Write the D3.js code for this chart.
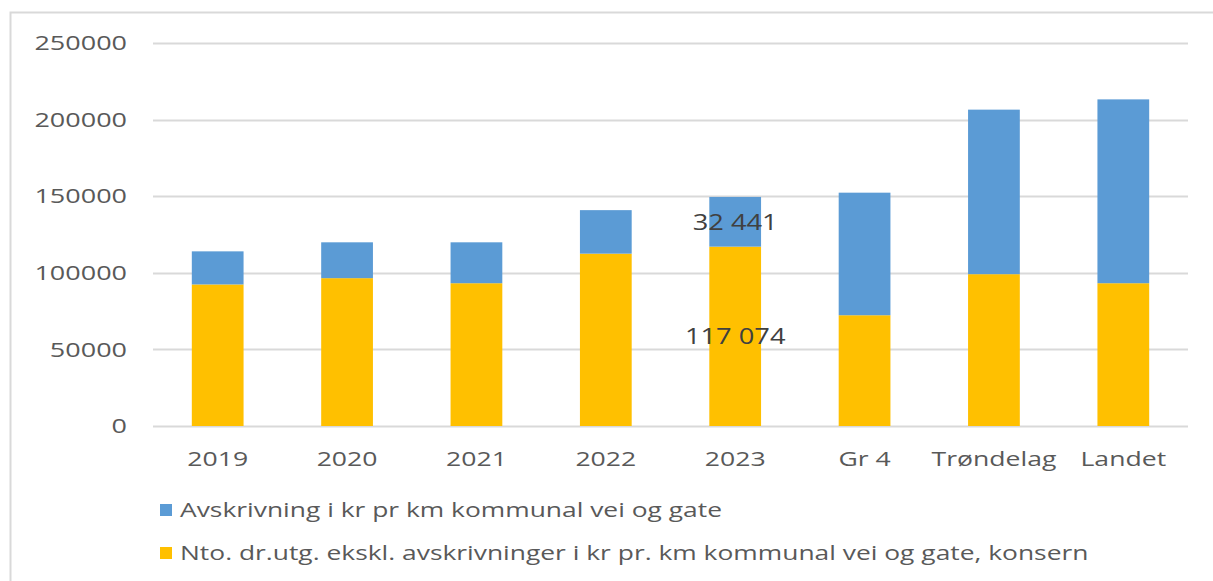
<!DOCTYPE html>
<html>
<head>
<meta charset="utf-8">
<script src="https://cdn.jsdelivr.net/npm/d3@7"></script>
<style>
  html, body { margin: 0; padding: 0; background: #fff; }
  svg { display: block; }
  text { font-family: "Open Sans", "DejaVu Sans", sans-serif; }
</style>
</head>
<body>
<svg id="chart" width="1213" height="581"></svg>
<script>
// Categories along the x axis
const categories = ["2019", "2020", "2021", "2022", "2023", "Gr 4", "Trøndelag", "Landet"];

// Net operating expenditure excl. depreciation (kr per km road), bottom segment
const netExpenses = [92400, 96500, 93200, 112500, 117074, 72300, 99100, 93200];

// Depreciation (kr per km road), top segment
const depreciation = [21600, 23400, 26700, 28400, 32441, 80000, 107400, 120000];

// Y axis ticks
const yTicks = [0, 50000, 100000, 150000, 200000, 250000];

// Series names for the legend
const seriesNames = [
  "Avskrivning i kr pr km kommunal vei og gate",
  "Nto. dr.utg. ekskl. avskrivninger i kr pr. km kommunal vei og gate, konsern"
];

// Category indices whose segments carry value labels
const labelledIndex = [4];

const colors = { dep: "#5B9BD5", net: "#FFC000" };
const textColor = "#595959";
const stretch = 1.33; // horizontal widening of the chart type

const svg = d3.select("#chart");

// Outer frame
svg.append("rect")
  .attr("x", 10.5).attr("y", 12.5)
  .attr("width", 1220).attr("height", 600)
  .attr("fill", "none")
  .attr("stroke", "#d9d9d9")
  .attr("stroke-width", 2);

const plot = { left: 153, right: 1188, top: 43, bottom: 426 };

const x = d3.scaleBand()
  .domain(categories)
  .range([plot.left, plot.right])
  .paddingInner(0.6)
  .paddingOuter(0.3);

const y = d3.scaleLinear()
  .domain([0, 250000])
  .range([plot.bottom, plot.top]);

// Gridlines
svg.append("g")
  .selectAll("line")
  .data(yTicks)
  .join("line")
  .attr("x1", plot.left).attr("x2", plot.right)
  .attr("y1", d => Math.round(y(d)) + 0.5)
  .attr("y2", d => Math.round(y(d)) + 0.5)
  .attr("stroke", "#d9d9d9")
  .attr("stroke-width", 2);

// Y tick labels
svg.append("g")
  .selectAll("text")
  .data(yTicks)
  .join("text")
  .attr("transform", d => `translate(127,${y(d)}) scale(1.35,1)`)
  .attr("text-anchor", "end")
  .attr("dy", "0.36em")
  .attr("font-size", 20)
  .attr("fill", textColor)
  .text(d => d);

// Stacked bars
const stackData = categories.map((c, i) => ({ cat: c, net: netExpenses[i], dep: depreciation[i] }));
const stack = d3.stack().keys(["net", "dep"]);
const layers = stack(stackData);

svg.append("g")
  .selectAll("g")
  .data(layers)
  .join("g")
  .attr("fill", d => colors[d.key])
  .selectAll("rect")
  .data(d => d)
  .join("rect")
  .attr("x", d => x(d.data.cat))
  .attr("width", x.bandwidth())
  .attr("y", d => y(d[1]))
  .attr("height", d => y(d[0]) - y(d[1]));

// Value labels centred in the segments
const labels = [];
layers.forEach(layer => {
  labelledIndex.forEach(i => {
    const seg = layer[i];
    labels.push({ cx: x(seg.data.cat) + x.bandwidth() / 2, cy: y((seg[0] + seg[1]) / 2), v: seg[1] - seg[0] });
  });
});
const fmt = v => d3.format(",")(v).replace(/,/g, " ");
svg.append("g")
  .selectAll("text")
  .data(labels)
  .join("text")
  .attr("transform", d => `translate(${d.cx},${d.cy}) scale(1.24,1)`)
  .attr("text-anchor", "middle")
  .attr("dy", "0.36em")
  .attr("font-size", 22)
  .attr("fill", "#404040")
  .text(d => fmt(d.v));

// X axis category labels
svg.append("g")
  .selectAll("text")
  .data(categories)
  .join("text")
  .attr("transform", d => `translate(${x(d) + x.bandwidth() / 2},466) scale(${stretch},1)`)
  .attr("text-anchor", "middle")
  .attr("font-size", 20)
  .attr("fill", textColor)
  .text(d => d);

// Legend
const legendColors = [colors.dep, colors.net];
const legend = svg.append("g")
  .selectAll("g")
  .data(seriesNames)
  .join("g")
  .attr("transform", (d, i) => `translate(160,${517 + i * 43})`);

legend.append("rect")
  .attr("x", 0).attr("y", -13)
  .attr("width", 12).attr("height", 12)
  .attr("fill", (d, i) => legendColors[i]);

legend.append("text")
  .attr("transform", `translate(20,0) scale(1.32,1)`)
  .attr("font-size", 20)
  .attr("fill", textColor)
  .text(d => d);
</script>
</body>
</html>
